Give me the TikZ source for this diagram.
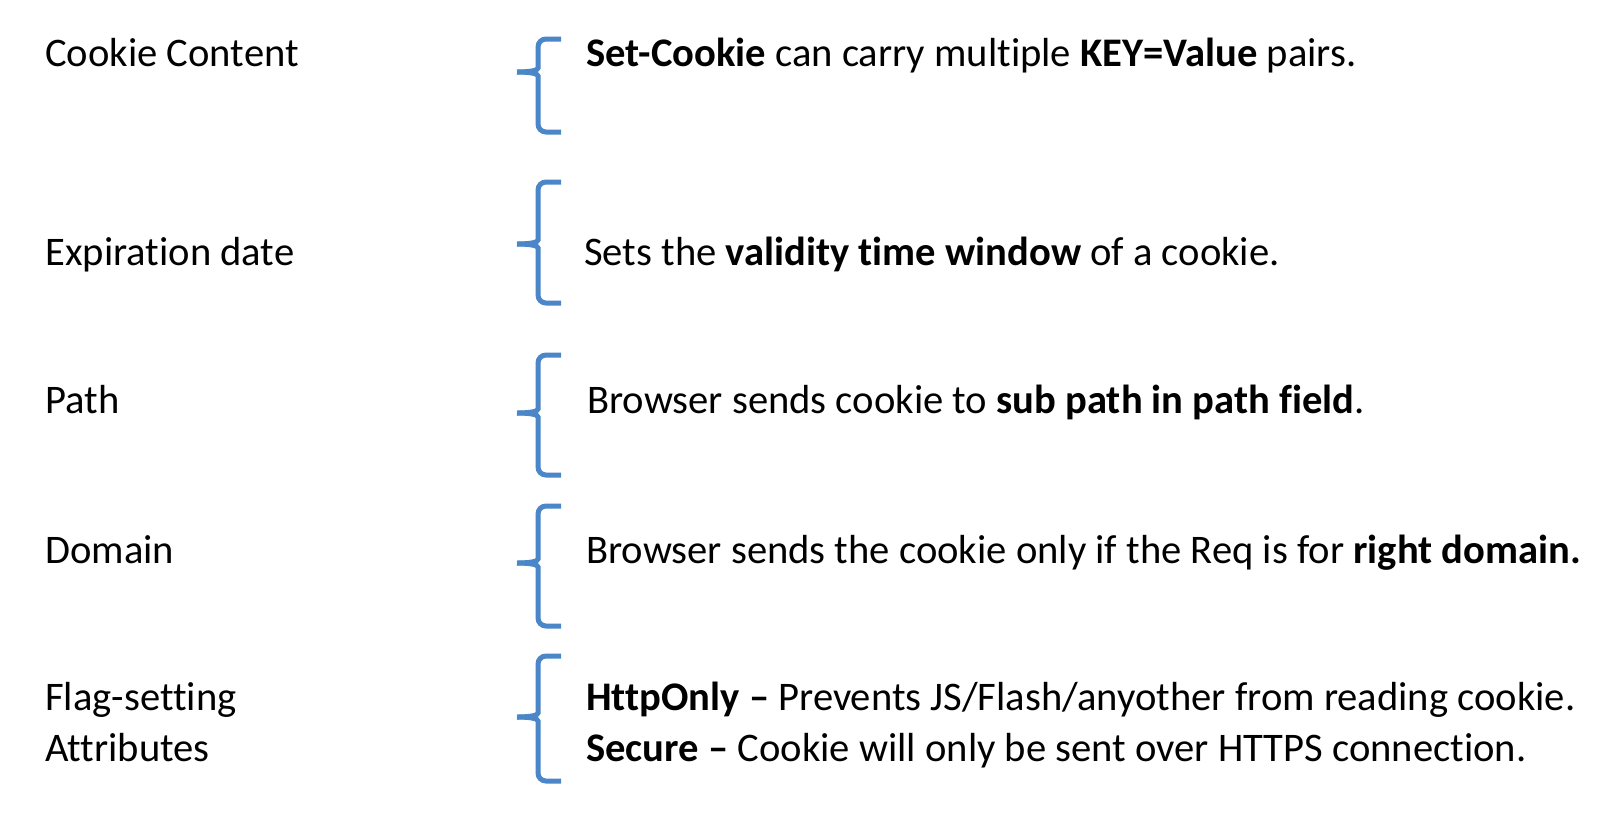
\documentclass[tikz,border=0pt]{standalone}
\usepackage{fontspec}
\setmainfont[Ligatures=NoCommon]{Carlito}
\usetikzlibrary{positioning}
\definecolor{braceblue}{HTML}{4A86C8}
% brace: spine x, top y, tip y, bottom y
\def\attrbrace(#1,#2,#3,#4){%
  \draw[brace] (#1+23,#2) -- (#1,#2) -- (#1,#3-12) .. controls (#1,#3-2) and (#1-6,#3) .. (#1-21,#3);
  \draw[brace] (#1+23,#4) -- (#1,#4) -- (#1,#3+12) .. controls (#1,#3+2) and (#1-6,#3) .. (#1-21,#3);}

\begin{document}
\begin{tikzpicture}[x=0.02cm, y=-0.02cm,
    brace/.style={line width=0.1cm, color=braceblue, rounded corners=0.16cm},
    attrname/.style={anchor=base west, inner sep=0pt, font=\fontsize{23.1}{28}\selectfont, align=left},
    attrnote/.style={anchor=base west, inner sep=0pt, font=\fontsize{23.1}{28}\selectfont, align=left}]
    %%%%% START %%%%%
    \useasboundingbox (0,0) rectangle (1612,822);

    \node[attrname] (content) at (45, 66) {Cookie Content};
    \attrbrace(538, 39, 72, 132)
    \node[attrnote] (contentnote) at (586, 66) {\textbf{Set-Cookie} can carry multiple \textbf{KEY=Value} pairs.};

    \node[attrname] (expires) at (45, 265) {Expiration date};
    \attrbrace(538, 182, 244, 303)
    \node[attrnote] (expiresnote) at (584, 265) {Sets the \textbf{validity time window} of a cookie.};

    \node[attrname] (path) at (45, 413) {Path};
    \attrbrace(538, 355, 413, 475)
    \node[attrnote] (pathnote) at (587, 413) {Browser sends cookie to \textbf{sub path in path field}.};

    \node[attrname] (domain) at (45, 563) {Domain};
    \attrbrace(538, 506, 563, 626)
    \node[attrnote] (domainnote) at (586, 563) {Browser sends the cookie only if the Req is for \textbf{right domain.}};

    \node[attrname] (flags) at (45, 761) {Flag-setting\\[1pt]Attributes};
    \attrbrace(538, 656, 717, 781)
    \node[attrnote] (flagsnote) at (586, 761) {\textbf{HttpOnly --} Prevents JS/Flash/anyother from reading cookie.\\[1pt]\textbf{Secure --} Cookie will only be sent over HTTPS connection.};

    %%%%% END %%%%%
\end{tikzpicture}
\end{document}
